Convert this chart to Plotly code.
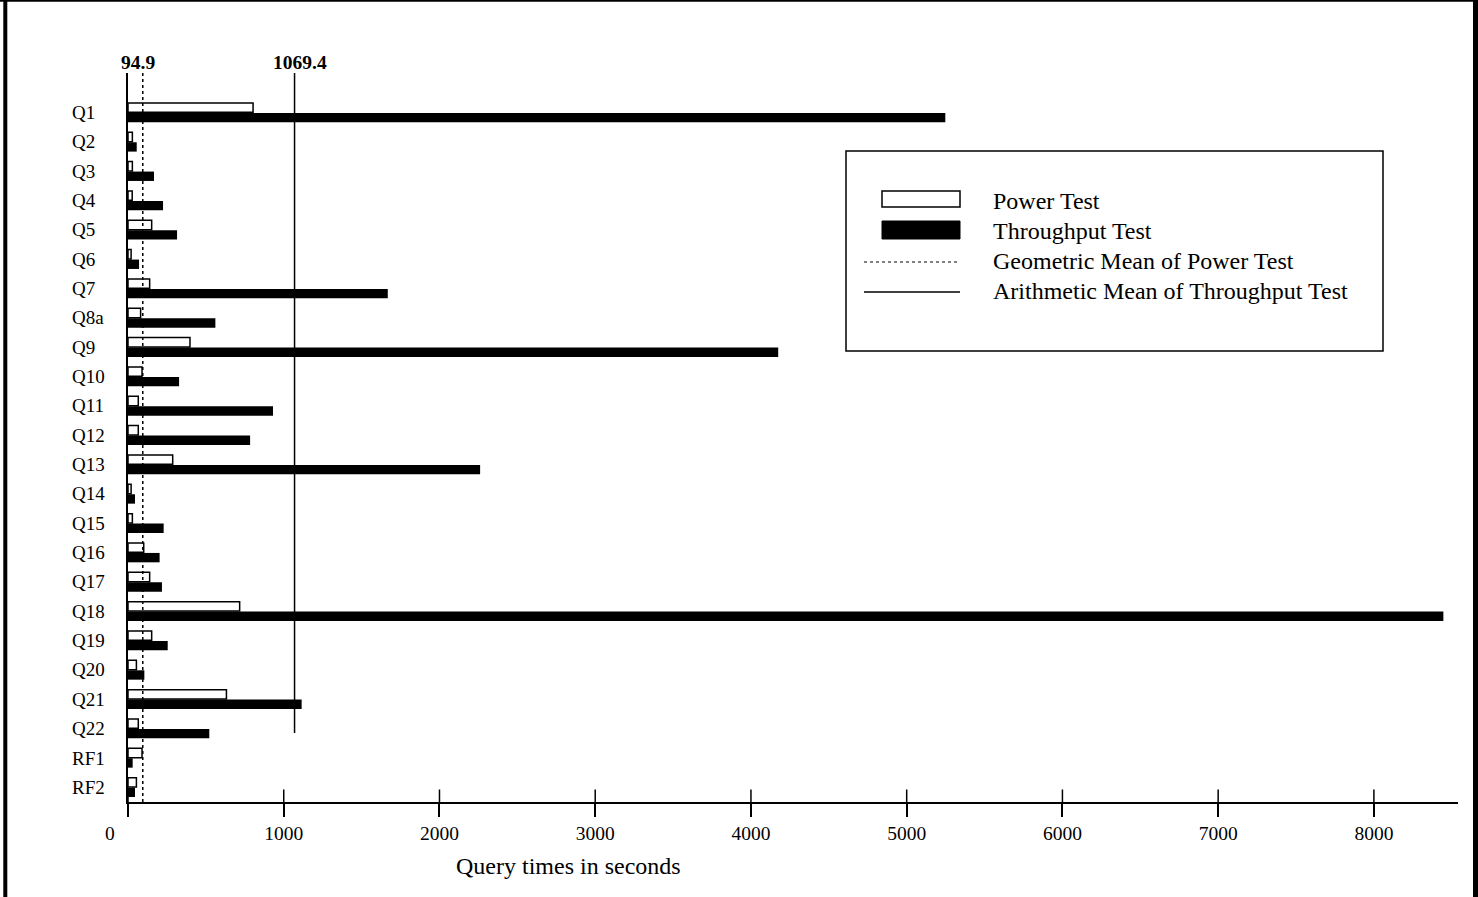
import plotly.graph_objects as go

queries = ["Q1", "Q2", "Q3", "Q4", "Q5", "Q6", "Q7", "Q8a", "Q9", "Q10", "Q11", "Q12",
           "Q13", "Q14", "Q15", "Q16", "Q17", "Q18", "Q19", "Q20", "Q21", "Q22", "RF1", "RF2"]
power_test = [803, 28, 28, 27, 152, 20, 139, 81, 398, 90, 66, 66,
              287, 20, 28, 101, 139, 717, 152, 54, 632, 66, 90, 54]
throughput_test = [5248, 56, 167, 225, 315, 71, 1668, 561, 4175, 328, 931, 784,
                   2261, 45, 229, 203, 218, 8446, 255, 105, 1115, 522, 30, 45]
geo_mean_power = 94.9
arith_mean_throughput = 1069.4
x_ticks = [0, 1000, 2000, 3000, 4000, 5000, 6000, 7000, 8000]
legend_labels = ["Power Test", "Throughput Test", "Geometric Mean of Power Test",
                 "Arithmetic Mean of Throughput Test"]

W, H = 1478, 897
L, R, T, B = 128, 20, 73, 95
PW, PH = W - L - R, H - T - B
FONT = "Liberation Serif"


def xp(px):
    return (px - L) / PW


def yp(py):
    return (H - B - py) / PH


fig = go.Figure()
fig.add_trace(go.Bar(y=queries, x=power_test, orientation="h", name=legend_labels[0],
                     marker=dict(color="white", line=dict(color="black", width=1.5)),
                     showlegend=False))
fig.add_trace(go.Bar(y=queries, x=throughput_test, orientation="h", name=legend_labels[1],
                     marker=dict(color="black", line=dict(color="black", width=0)),
                     showlegend=False))

shapes = []
annotations = []

# upper halves of x ticks (ticks cross the axis)
for tv in x_ticks:
    shapes.append(dict(type="line", xref="x", yref="paper", x0=tv, x1=tv, y0=0, y1=12.5 / PH,
                       line=dict(color="black", width=1.5)))

# mean lines
shapes.append(dict(type="line", xref="x", yref="paper", x0=geo_mean_power, x1=geo_mean_power,
                   y0=0, y1=1, line=dict(color="black", width=1.5, dash="dot")))
shapes.append(dict(type="line", xref="x", yref="y", x0=arith_mean_throughput,
                   x1=arith_mean_throughput, y0=-1.35, y1=21.15,
                   line=dict(color="black", width=1.5)))
annotations.append(dict(text=f"{geo_mean_power}", x=geo_mean_power, xref="x", y=yp(62.5),
                        yref="paper", xanchor="center", yanchor="middle", xshift=-5,
                        showarrow=False, font=dict(family=FONT, size=19.5, color="black",
                                                   weight="bold")))
annotations.append(dict(text=f"{arith_mean_throughput}", x=arith_mean_throughput, xref="x",
                        y=yp(62.5), yref="paper", xanchor="center", yanchor="middle", xshift=5,
                        showarrow=False, font=dict(family=FONT, size=19.5, color="black",
                                                   weight="bold")))

# category labels, left aligned
for q in queries:
    annotations.append(dict(text=q, x=xp(70), xref="paper", y=q, yref="y", xanchor="left",
                            yanchor="middle", showarrow=False,
                            font=dict(family=FONT, size=19, color="black")))

# "0" tick label (offset left)
annotations.append(dict(text="0", x=0, xref="x", y=yp(833), yref="paper", xanchor="center",
                        yanchor="middle", xshift=-18, showarrow=False,
                        font=dict(family=FONT, size=19.5, color="black")))

# axis title
annotations.append(dict(text="Query times in seconds", x=xp(568), xref="paper", y=yp(866),
                        yref="paper", xanchor="center", yanchor="middle", showarrow=False,
                        font=dict(family=FONT, size=24, color="black")))

# legend
shapes.append(dict(type="rect", xref="paper", yref="paper", x0=xp(846), x1=xp(1383),
                   y0=yp(151), y1=yp(351), line=dict(color="black", width=1.5),
                   fillcolor="white", layer="above"))
shapes.append(dict(type="rect", xref="paper", yref="paper", x0=xp(882), x1=xp(960),
                   y0=yp(191), y1=yp(207), line=dict(color="black", width=1.5),
                   fillcolor="white", layer="above"))
shapes.append(dict(type="rect", xref="paper", yref="paper", x0=xp(882), x1=xp(960),
                   y0=yp(221), y1=yp(239), line=dict(color="black", width=1),
                   fillcolor="black", layer="above"))
shapes.append(dict(type="line", xref="paper", yref="paper", x0=xp(864), x1=xp(960),
                   y0=yp(262), y1=yp(262), line=dict(color="black", width=1, dash="dot"),
                   layer="above"))
shapes.append(dict(type="line", xref="paper", yref="paper", x0=xp(864), x1=xp(960),
                   y0=yp(292), y1=yp(292), line=dict(color="black", width=1.5),
                   layer="above"))
for i, lab in enumerate(legend_labels):
    annotations.append(dict(text=lab, x=xp(991), xref="paper", y=yp(201 + 30 * i),
                            yref="paper", xanchor="left", yanchor="middle", showarrow=False,
                            font=dict(family=FONT, size=24, color="black")))

# outer frame
shapes.append(dict(type="line", xref="paper", yref="paper", x0=xp(5.3), x1=xp(5.3),
                   y0=yp(0), y1=yp(900), line=dict(color="black", width=4)))
shapes.append(dict(type="line", xref="paper", yref="paper", x0=xp(1475.5), x1=xp(1475.5),
                   y0=yp(0), y1=yp(900), line=dict(color="black", width=5)))
shapes.append(dict(type="line", xref="paper", yref="paper", x0=xp(0), x1=xp(1478),
                   y0=yp(0.8), y1=yp(0.8), line=dict(color="black", width=2)))

fig.update_layout(
    width=W, height=H,
    margin=dict(l=L, r=R, t=T, b=B, pad=0),
    paper_bgcolor="white", plot_bgcolor="white",
    barmode="group", bargap=0.32, bargroupgap=0.06,
    font=dict(family=FONT, color="black"),
    xaxis=dict(range=[0, 8540], tickvals=x_ticks,
               ticktext=[""] + [str(v) for v in x_ticks[1:]],
               ticks="outside", ticklen=13, tickwidth=1.5, tickcolor="black",
               showline=True, linewidth=2, linecolor="black", showgrid=False,
               zeroline=False, tickfont=dict(family=FONT, size=19.5, color="black")),
    yaxis=dict(type="category", categoryorder="array", categoryarray=queries,
               range=[23.5, -1.35], showticklabels=False, ticks="",
               showline=True, linewidth=1.5, linecolor="black", showgrid=False,
               zeroline=False),
    shapes=shapes,
    annotations=annotations,
)

fig.write_html("out.html", config={"displayModeBar": False},
               post_script="document.body.style.margin='0';document.body.style.padding='0';")
